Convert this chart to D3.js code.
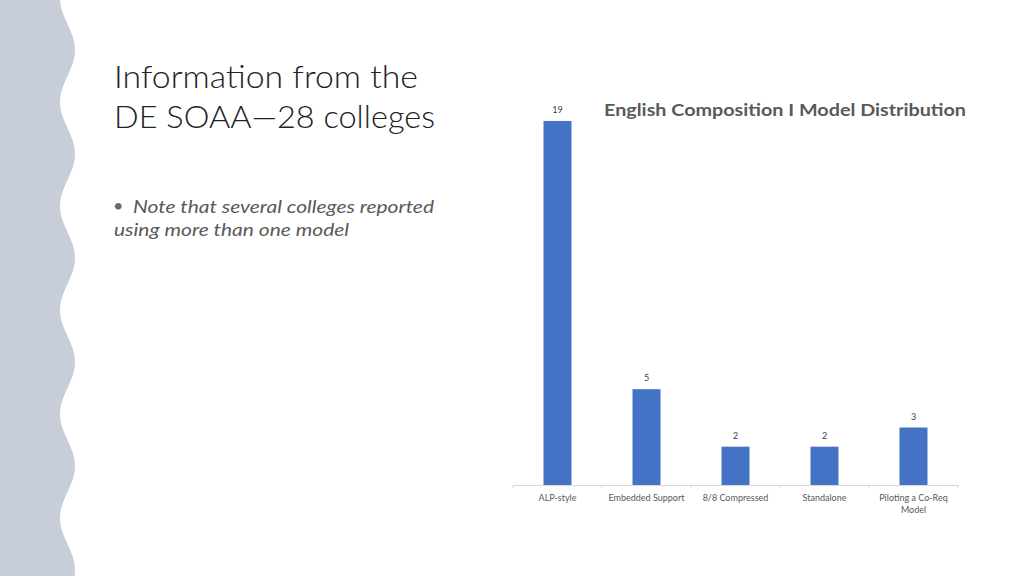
<!DOCTYPE html>
<html>
<head>
<meta charset="utf-8">
<script src="https://cdn.jsdelivr.net/npm/d3@7"></script>
<style>
  body { margin: 0; background: #fff; }
  svg { display: block; }
</style>
</head>
<body>
<div id="chart"></div>
<script>
// chart data
var categories = ["ALP-style", "Embedded Support", "8/8 Compressed", "Standalone", "Piloting a Co-Req Model"];
var counts = [19, 5, 2, 2, 3];
var chartTitle = "English Composition I Model Distribution";
var slideTitle = ["Information from the", "DE SOAA\u201428 colleges"];
var noteLines = ["Note that several colleges reported", "using more than one model"];

var W = 1024, H = 576;
var svg = d3.select("#chart").append("svg")
    .attr("width", W)
    .attr("height", H);

// wavy band on the left
var wave = d3.range(0, H + 2, 2).map(function (y) {
    return [67.5 + 7.5 * Math.sin(2 * Math.PI * (y - 50) / 104 + Math.PI / 2), y];
});
var wavePts = [[0, 0]].concat(wave).concat([[0, H]]);
svg.append("path")
    .attr("d", d3.line()(wavePts) + "Z")
    .attr("fill", "#c8ced9");

// slide title
svg.selectAll("text.title")
    .data(slideTitle)
    .enter()
    .append("text")
    .attr("class", "title")
    .attr("x", 114)
    .attr("y", function (d, i) { return 88 + i * 40; })
    .attr("font-family", "Lato, 'Open Sans', sans-serif")
    .attr("font-weight", 300)
    .attr("font-size", "32px")
    .attr("fill", "#222")
    .attr("textLength", function (d, i) { return i === 0 ? 304 : 321; })
    .attr("lengthAdjust", "spacingAndGlyphs")
    .text(function (d) { return d; });

// bullet note
svg.append("text")
    .attr("x", 113)
    .attr("y", 212)
    .attr("font-family", "Lato, sans-serif")
    .attr("font-size", "18px")
    .attr("fill", "#6b6b6b")
    .text("\u2022");
svg.selectAll("text.note")
    .data(noteLines)
    .enter()
    .append("text")
    .attr("class", "note")
    .attr("x", function (d, i) { return i === 0 ? 133 : 114; })
    .attr("y", function (d, i) { return 213 + i * 23; })
    .attr("font-family", "Lato, 'Open Sans', sans-serif")
    .attr("font-style", "italic")
    .attr("font-size", "18px")
    .attr("fill", "#595959")
    .attr("textLength", function (d, i) { return i === 0 ? 301 : 235; })
    .attr("lengthAdjust", "spacingAndGlyphs")
    .text(function (d) { return d; });

// chart
var x = d3.scaleBand()
    .domain(categories)
    .range([513, 958]);
var y = d3.scaleLinear()
    .domain([0, 20])
    .range([485, 101.8]);
var barW = 28;

svg.append("text")
    .attr("x", 785)
    .attr("y", 116)
    .attr("text-anchor", "middle")
    .attr("font-family", "Lato, 'Open Sans', sans-serif")
    .attr("font-weight", "bold")
    .attr("font-size", "17px")
    .attr("fill", "#595959")
    .attr("textLength", 362)
    .attr("lengthAdjust", "spacingAndGlyphs")
    .text(chartTitle);

svg.selectAll("rect.bar")
    .data(counts)
    .enter()
    .append("rect")
    .attr("class", "bar")
    .attr("x", function (d, i) { return x(categories[i]) + x.bandwidth() / 2 - barW / 2; })
    .attr("y", function (d) { return y(d); })
    .attr("width", barW)
    .attr("height", function (d) { return y(0) - y(d); })
    .attr("fill", "#4472c4");

svg.selectAll("text.val")
    .data(counts)
    .enter()
    .append("text")
    .attr("class", "val")
    .attr("x", function (d, i) { return x(categories[i]) + x.bandwidth() / 2; })
    .attr("y", function (d) { return y(d) - 8; })
    .attr("text-anchor", "middle")
    .attr("font-family", "Lato, 'Open Sans', sans-serif")
    .attr("font-size", "9px")
    .attr("fill", "#404040")
    .text(function (d) { return d; });

// axis
var axis = svg.append("g")
    .attr("transform", "translate(0," + y(0) + ")")
    .call(d3.axisBottom(x).tickSize(0).tickFormat(""));
axis.select(".domain").attr("stroke", "#d9d9d9");
axis.selectAll(".tick").remove();

var bounds = categories.map(function (c) { return x(c); }).concat([x.range()[1]]);
svg.selectAll("line.tk")
    .data(bounds)
    .enter()
    .append("line")
    .attr("class", "tk")
    .attr("x1", function (d) { return d; })
    .attr("x2", function (d) { return d; })
    .attr("y1", y(0))
    .attr("y2", y(0) + 3)
    .attr("stroke", "#d9d9d9");

// category labels, wrapped to the band width
svg.selectAll("text.cat")
    .data(categories)
    .enter()
    .append("text")
    .attr("class", "cat")
    .attr("text-anchor", "middle")
    .attr("font-family", "Lato, 'Open Sans', sans-serif")
    .attr("font-size", "9px")
    .attr("fill", "#595959")
    .each(function (d) {
        var el = d3.select(this);
        var cx = x(d) + x.bandwidth() / 2;
        var words = d.split(" ");
        var lines = [];
        var line = [];
        var maxW = x.bandwidth() - 10;
        words.forEach(function (w) {
            line.push(w);
            el.text(line.join(" "));
            if (this.getComputedTextLength() > maxW && line.length > 1) {
                line.pop();
                lines.push(line.join(" "));
                line = [w];
            }
        }, this);
        lines.push(line.join(" "));
        el.text(null);
        lines.forEach(function (t, i) {
            el.append("tspan")
                .attr("x", cx)
                .attr("y", 501 + i * 12)
                .text(t);
        });
    });
</script>
</body>
</html>
